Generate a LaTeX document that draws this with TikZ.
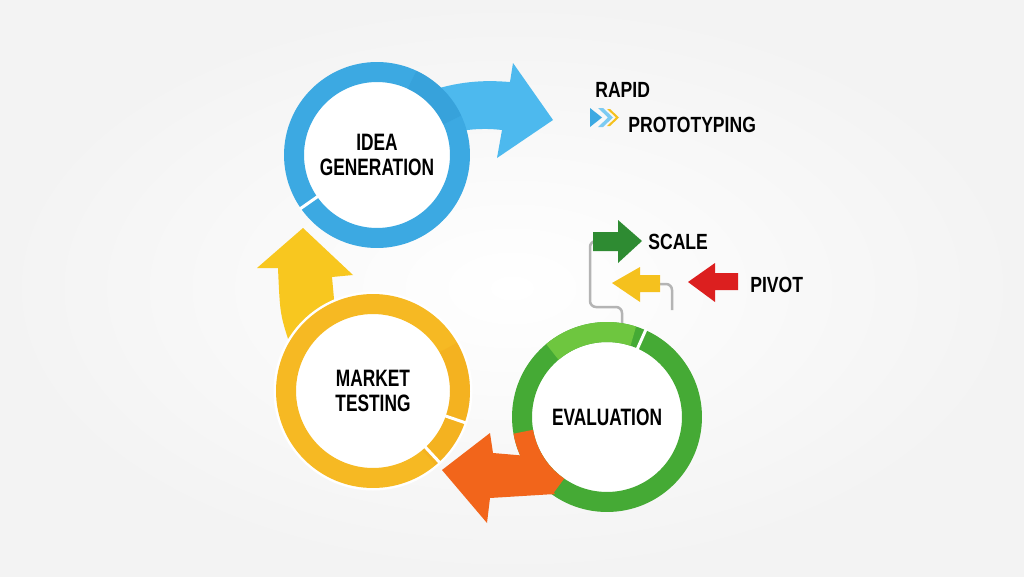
\documentclass[tikz,border=0pt]{standalone}
\usepackage{fontspec}
\newfontfamily\circfont{Liberation Sans}[FakeStretch=0.73]
\newfontfamily\tagfont{Liberation Sans}[FakeStretch=0.8]
\definecolor{bggray}{HTML}{F3F3F3}
\definecolor{ideablue}{HTML}{3CA9E2}
\definecolor{ideadark}{HTML}{2F95CF}
\definecolor{bluearrow}{HTML}{4DB9EE}
\definecolor{chevblue}{HTML}{7CCBF2}
\definecolor{marketyellow}{HTML}{F6B923}
\definecolor{marketdeep}{HTML}{F0A31B}
\definecolor{yellowarrow}{HTML}{F8C71F}
\definecolor{evalgreen}{HTML}{45AA35}
\definecolor{evallight}{HTML}{6EC63F}
\definecolor{orangearrow}{HTML}{F2651B}
\definecolor{scalegreen}{HTML}{2E8B32}
\definecolor{smallyellow}{HTML}{F5C11E}
\definecolor{pivotred}{HTML}{DC1F1F}
\definecolor{wiregray}{HTML}{B4B4B4}

\begin{document}
\begin{tikzpicture}[
        x=0.02cm, y=0.02cm,
        ring/.style={circle, fill=white, draw=#1, line width=0.4cm, inner sep=0pt, align=center,
            font=\circfont\bfseries\fontsize{13.5}{14.5}\selectfont},
        tag/.style={anchor=base west, inner sep=0pt, font=\tagfont\bfseries\fontsize{12.5}{14}\selectfont},
        wire/.style={draw=wiregray, line width=0.05cm, rounded corners=0.12cm},
        gap/.style={white, line width=0.06cm}
    ]

    % Background
    \shade[inner color=white, outer color=bggray] (0,0) rectangle (1024,576);
    \useasboundingbox (0,0) rectangle (1024,576);

    % Loose ends of the connectors
    \coordinate (evaltop) at (622,252);
    \coordinate (scaletail) at (593,335);
    \coordinate (backtail) at (660,292);
    \coordinate (pivotdrop) at (672,266);

    % Connectors
    \draw[wire] (evaltop) |- (590,269) |- (scaletail);
    \draw[wire] (backtail) -| (pivotdrop);

    % Idea -> rapid prototyping
    \fill[bluearrow] (436,487) .. controls (470,497) and (495,495) .. (510,494) -- (513,513)
        -- (553,456) -- (497,418) -- (502,446) .. controls (485,448) and (470,447) .. (455,444) -- cycle;

    % Market testing -> idea
    \fill[yellowarrow] (290,231) .. controls (280,262) .. (278,308) -- (257,308) -- (303,348)
        -- (353,301) -- (332,299) -- (335,266) -- cycle;

    % Idea Generation
    \node[ring=ideablue, minimum size=3.32cm] (idea) at (377,421) {IDEA\\GENERATION};
    \draw[ideadark, line width=0.4cm, opacity=0.35] (idea.center) ++(25:83) arc[start angle=25, end angle=65, radius=83];
    \draw[gap] (idea.center) ++(215:72) -- ++(215:22);

    % Evaluation
    \node[ring=evalgreen, minimum size=3.4cm] (eval) at (607,159) {EVALUATION};
    \draw[evallight, line width=0.4cm] (eval.center) ++(72:85) arc[start angle=72, end angle=130, radius=85];
    \draw[gap] (eval.center) ++(66:74) -- ++(66:23);

    % Evaluation -> market testing
    \draw[orangearrow, line width=0.4cm] (eval.center) ++(190:85) arc[start angle=190, end angle=235, radius=85];
    \fill[orangearrow] (442,106) -- (490,143) -- (493,123) -- (528,120) -- (555,82) -- (490,78) -- (487,53) -- cycle;

    % Market Testing
    \draw[white, line width=0.5cm] (373,185) circle[radius=87];
    \node[ring=marketyellow, minimum size=3.48cm] (market) at (373,185) {MARKET\\TESTING};
    \draw[marketdeep, line width=0.4cm, opacity=0.3] (market.center) ++(-50:87) arc[start angle=-50, end angle=30, radius=87];
    \draw[gap] (market.center) ++(-19:76) -- ++(-19:22);
    \draw[gap] (market.center) ++(-47:76) -- ++(-47:22);

    % Outcomes
    \fill[scalegreen] (593,325) -- (618,325) -- (618,313) -- (642,335) -- (618,356) -- (618,344) -- (593,344) -- cycle;
    \fill[smallyellow] (612,293) -- (640,309) -- (640,301) -- (660,301) -- (660,284) -- (640,284) -- (640,274) -- cycle;
    \fill[pivotred] (688,294) -- (715,313) -- (715,303) -- (738,303) -- (738,286) -- (715,286) -- (715,274) -- cycle;

    % Chevrons
    \fill[ideablue] (590,468) -- (602,458.5) -- (590,449) -- cycle;
    \fill[chevblue] (598,468) -- (603,468) -- (613,458.5) -- (603,449) -- (598,449) -- (608,458.5) -- cycle;
    \fill[smallyellow] (607,467) -- (610,467) -- (619,458.5) -- (610,450) -- (607,450) -- (616,458.5) -- cycle;

    % Labels
    \node[tag] (rapid) at (595,479) {RAPID};
    \node[tag] (proto) at (628,444) {PROTOTYPING};
    \node[tag] (scale) at (648,327) {SCALE};
    \node[tag] (pivot) at (750,284) {PIVOT};

\end{tikzpicture}
\end{document}
